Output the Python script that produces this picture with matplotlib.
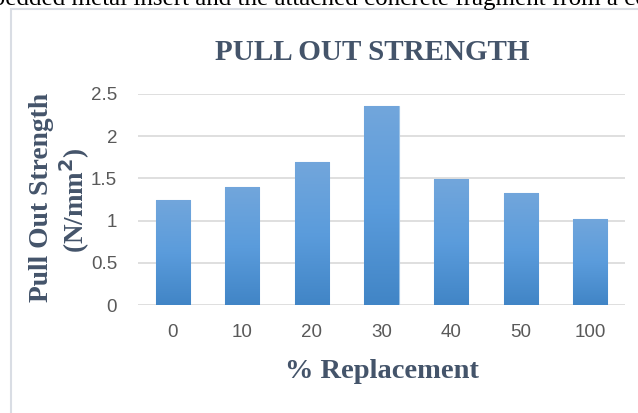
import numpy as np
import matplotlib
matplotlib.use('Agg')
import matplotlib.pyplot as plt
from matplotlib.patches import Rectangle

# --- data ---
categories = ['0', '10', '20', '30', '40', '50', '100']
strength = [1.25, 1.40, 1.69, 2.36, 1.49, 1.33, 1.02]
y_ticks = [0, 0.5, 1, 1.5, 2, 2.5]
y_tick_labels = ['0', '0.5', '1', '1.5', '2', '2.5']

title_color = '#44546A'
tick_color = '#595959'
grid_color = '#D9D9D9'

W, H = 638, 413
fig = plt.figure(figsize=(W / 100, H / 100), dpi=100)
fig.patch.set_facecolor('white')

# chart border (cropped screenshot of an Excel chart)
fig.patches.append(Rectangle((11 / W, -0.1), 1.2, 1.1 - 9 / H, transform=fig.transFigure,
                             fill=False, edgecolor='#D9DDE4', linewidth=1.5))

# caption text that is cut off at the top of the screenshot
fig.text(-38 / W, 1 - 4.5 / H, 'embedded metal insert and the attached concrete fragment from a concrete',
         fontsize=18, family='Liberation Serif', color='black', ha='left', va='baseline')

ax = fig.add_axes([138 / W, 1 - 305 / H, (625 - 138) / W, (305 - 94) / H])
x = np.arange(len(categories))
bars = ax.bar(x, strength, width=0.49, color='#5B9BD5', edgecolor='#9DC3E6', linewidth=0.8, zorder=2)

# vertical gradient inside each bar
grad = np.linspace(0, 1, 256).reshape(-1, 1)
cmap = matplotlib.colors.LinearSegmentedColormap.from_list('bar', ['#4185C6', '#5B9CDC', '#72A6DB'])
for b in bars:
    x0, y0 = b.get_x(), b.get_y()
    im = ax.imshow(grad, extent=[x0, x0 + b.get_width(), y0, y0 + b.get_height()],
                   origin='lower', aspect='auto', cmap=cmap, zorder=2.5)
    im.set_clip_path(b)
ax.set_xlim(-0.5, len(categories) - 0.5)
ax.set_ylim(0, 2.5)

ax.set_yticks(y_ticks)
ax.set_yticklabels(y_tick_labels)
ax.set_xticks(x)
ax.set_xticklabels(categories)
ax.tick_params(length=0, labelsize=13.5, labelcolor=tick_color, pad=14)
ax.tick_params(axis='y', pad=15)
for lab in ax.get_xticklabels() + ax.get_yticklabels():
    lab.set_family('Liberation Sans')

ax.grid(True, axis='y', color=grid_color, linewidth=1.2, zorder=0)
ax.set_axisbelow(True)
for s in ax.spines.values():
    s.set_visible(False)

fig.text(372 / W, 1 - 52 / H, 'PULL OUT STRENGTH', fontsize=21, fontweight='bold',
         family='Liberation Serif', color=title_color, ha='center', va='center')
fig.text(382 / W, 1 - 371 / H, '% Replacement', fontsize=20.5, fontweight='bold',
         family='Liberation Serif', color=title_color, ha='center', va='center')
fig.text(42 / W, 1 - 197 / H, 'Pull Out Strength', fontsize=19.8, fontweight='bold',
         family='Liberation Serif', color=title_color, ha='center', va='center', rotation=90)
fig.text(75 / W, 1 - 200 / H, r'(N/mm$^{\mathbf{2}}$)', fontsize=19.5, fontweight='bold',
         family='Liberation Serif', color=title_color, ha='center', va='center', rotation=90)

plt.savefig('out.png', dpi=100)
